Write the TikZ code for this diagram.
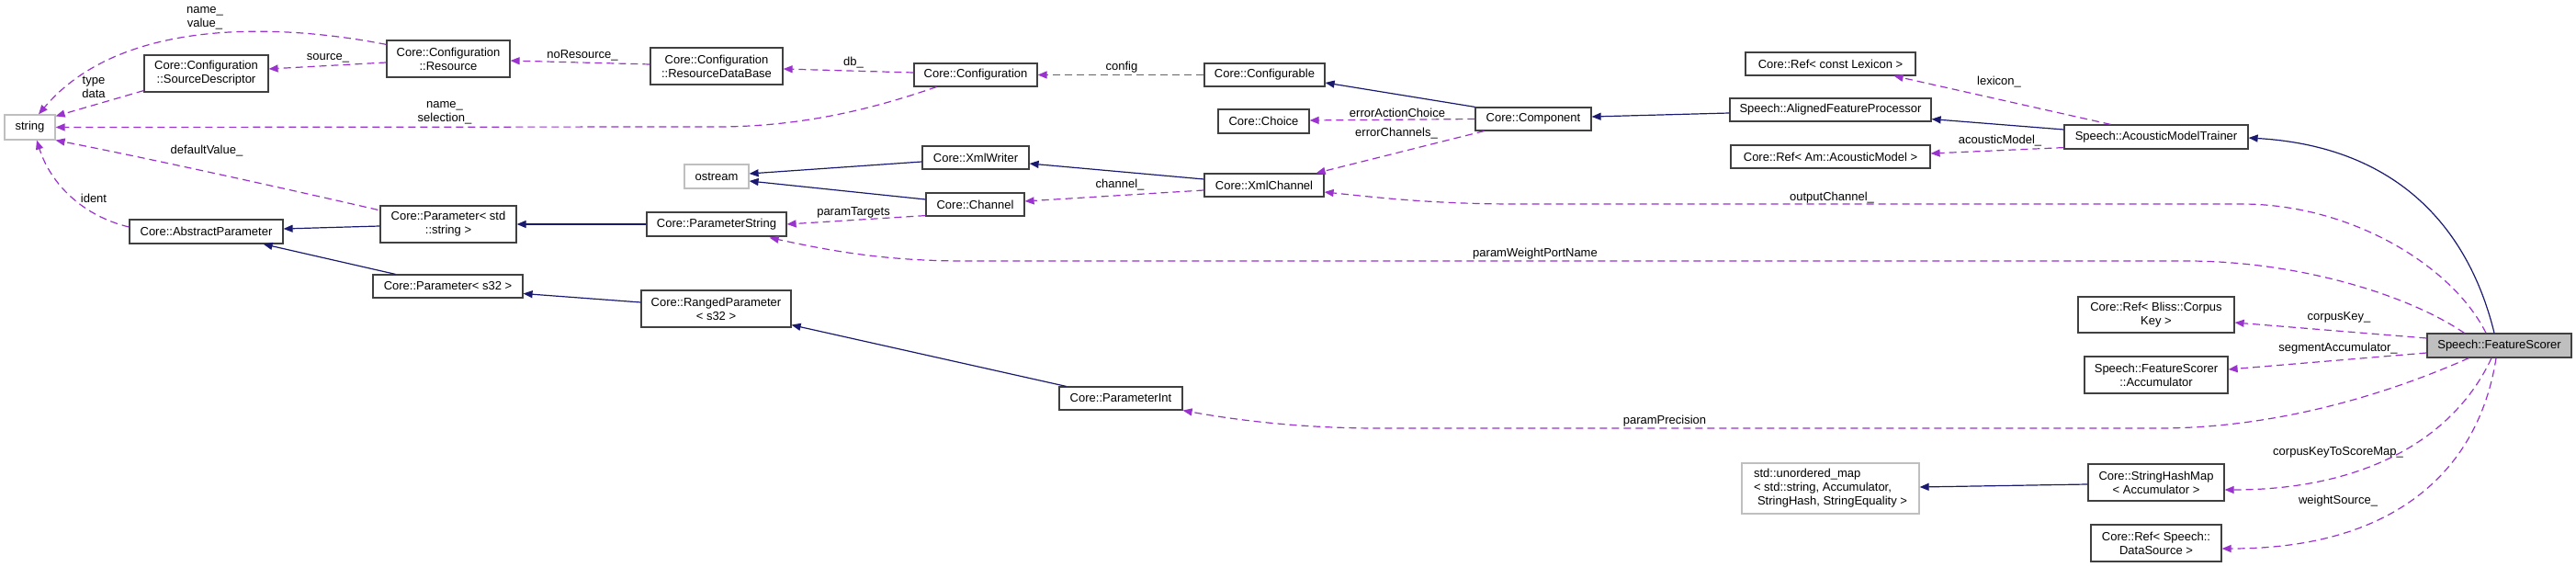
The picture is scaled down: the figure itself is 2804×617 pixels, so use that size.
\documentclass[tikz,border=0pt]{standalone}
\usepackage{fontspec}
\setmainfont{Liberation Sans}
\usetikzlibrary{arrows.meta,calc}
\definecolor{inhcol}{HTML}{191970}
\definecolor{usecol}{HTML}{9A32CD}
\definecolor{boxline}{HTML}{404040}
\definecolor{extline}{HTML}{BFBFBF}
\definecolor{focusfill}{HTML}{BFBFBF}
\newcommand{\dgmfont}{\fontsize{13}{15}\selectfont}
\begin{document}
\begin{tikzpicture}[x=1pt,y=-1pt,
  box/.style={draw=boxline, line width=1.2pt, fill=white, inner sep=0pt, align=center, font=\dgmfont},
  extbox/.style={box, draw=extline},
  sz/.style 2 args={minimum width=#1pt, minimum height=#2pt},
  inhline/.style={draw=inhcol, line width=1.2pt, -{Triangle[length=10pt,width=8pt]}},
  useline/.style={draw=usecol, line width=1.2pt, dash pattern=on 8pt off 5pt, -{Triangle[length=10pt,width=8pt]}},
  lbl/.style={font=\dgmfont, inner sep=0pt, align=center}]
\useasboundingbox (0,0) rectangle (2804,617);

% ---------- nodes ----------
\node[extbox, sz={55}{27}] (str) at (32.5,138.5) {string};
\node[box, sz={135}{40}] (srcd) at (224.5,80) {Core::Configuration\\::SourceDescriptor};
\node[box, sz={134}{40}] (res) at (488,64) {Core::Configuration\\::Resource};
\node[box, sz={144}{40}] (rdb) at (780,72) {Core::Configuration\\::ResourceDataBase};
\node[box, sz={134}{25}] (conf) at (1062,81.5) {Core::Configuration};
\node[box, sz={131}{25}] (cfgb) at (1376.5,81.5) {Core::Configurable};
\node[box, sz={99}{26}] (choice) at (1375.5,132) {Core::Choice};
\node[box, sz={126}{25}] (comp) at (1669,129.5) {Core::Component};
\node[box, sz={185}{25}] (lex) at (1992.5,69.5) {Core::Ref< const Lexicon >};
\node[box, sz={219}{25}] (afp) at (1992.5,119.5) {Speech::AlignedFeatureProcessor};
\node[box, sz={217}{25}] (am) at (1992.5,170.5) {Core::Ref< Am::AcousticModel >};
\node[box, sz={200}{26}] (amt) at (2347,149) {Speech::AcousticModelTrainer};
\node[extbox, sz={70}{26}] (ostr) at (780,192) {ostream};
\node[box, sz={116}{25}] (xw) at (1062,171.5) {Core::XmlWriter};
\node[box, sz={107}{25}] (chan) at (1061.5,222.5) {Core::Channel};
\node[box, sz={130}{25}] (xc) at (1376,201.5) {Core::XmlChannel};
\node[box, sz={152}{26}] (ps) at (780,244) {Core::ParameterString};
\node[box, sz={167}{26}] (ap) at (224.5,252) {Core::AbstractParameter};
\node[box, sz={148}{40}] (pstd) at (488,244) {Core::Parameter< std\\::string >};
\node[box, sz={163}{25}] (p32) at (487.5,311.5) {Core::Parameter< s32 >};
\node[box, sz={163}{40}] (rp) at (779.5,336) {Core::RangedParameter\\< s32 >};
\node[box, sz={134}{25}] (pint) at (1220,433.5) {Core::ParameterInt};
\node[box, sz={157}{26}, fill=focusfill] (fs) at (2720.5,376) {Speech::FeatureScorer};
\node[box, sz={170}{39}] (ck) at (2347,342.5) {Core::Ref< Bliss::Corpus\\Key >};
\node[box, sz={156}{40}] (acc) at (2347,408) {Speech::FeatureScorer\\::Accumulator};
\node[box, sz={148}{40}] (shm) at (2347,525) {Core::StringHashMap\\< Accumulator >};
\node[box, sz={142}{40}] (ds) at (2347,591) {Core::Ref< Speech::\\DataSource >};
\node[extbox, sz={193}{55}, align=left] (um) at (1992.5,531.5) {std::unordered\_map\\< std::string, Accumulator,\\\hspace*{4pt}StringHash, StringEquality >};

% ---------- inheritance (solid) ----------
\draw[inhline] ($(pstd.west)+(0,2)$) -- ($(ap.east)+(0,-3)$);
\draw[inhline] ($(p32.north west)+(25,0)$) -- ($(ap.south east)+(-22,0)$);
\draw[inhline] (ps.west) -- (pstd.east);
\draw[inhline] ($(rp.west)+(0,-7)$) -- ($(p32.east)+(0,8)$);
\draw[inhline] ($(pint.north west)+(8,0)$) -- ($(rp.south east)+(0,-3)$);
\draw[inhline] ($(xw.west)+(0,4.5)$) -- ($(ostr.east)+(0,-3)$);
\draw[inhline] ($(chan.west)+(0,-5.5)$) -- ($(ostr.east)+(0,5)$);
\draw[inhline] ($(xc.west)+(0,-6.5)$) -- ($(xw.east)+(0,6.5)$);
\draw[inhline] (comp.north west) -- ($(cfgb.east)+(0,8.5)$);
\draw[inhline] ($(afp.west)+(0,3.5)$) -- ($(comp.east)+(0,-2.5)$);
\draw[inhline] ($(amt.west)+(0,-8)$) -- ($(afp.south east)+(0,-3)$);
\draw[inhline] ($(fs.north)+(-5.5,0)$) .. controls (2690,260) and (2620,160) .. ($(amt.east)+(0,1)$);
\draw[inhline] ($(shm.west)+(0,2)$) -- ($(um.east)+(0,-1.5)$);

% ---------- usage (dashed) ----------
\draw[useline] ($(res.north west)+(0,5)$) .. controls (300,25) and (130,20) .. ($(str.north)+(9.5,0)$);
\draw[useline] ($(srcd.south west)+(0,-2)$) -- ($(str.north east)+(0,2)$);
\draw[useline] ($(res.west)+(0,4)$) -- ($(srcd.east)+(0,-5)$);
\draw[useline] ($(rdb.west)+(0,-2)$) -- ($(res.east)+(0,2)$);
\draw[useline] ($(conf.west)+(0,-2.5)$) -- ($(rdb.east)+(0,3)$);
\draw[useline] (cfgb.west) -- (conf.east);
\draw[useline] ($(conf.south west)+(25,0)$) .. controls (960,115) and (880,138) .. (780,138) -- (str.east);
\draw[useline] ($(pstd.north west)+(-2,5)$) .. controls (310,205) and (160,172) .. (str.south east);
\draw[useline] ($(ap.west)+(0,-5)$) .. controls (90,235) and (55,200) .. ($(str.south)+(7.5,0)$);
\draw[useline] ($(chan.south west)+(0,-1)$) -- (ps.east);
\draw[useline] ($(xc.west)+(0,5.5)$) -- ($(chan.east)+(0,-3.5)$);
\draw[useline] (comp.west) -- ($(choice.east)+(0,-1)$);
\draw[useline] ($(comp.south west)+(10,0)$) -- ($(xc.north east)+(-9,0)$);
\draw[useline] ($(amt.north west)+(51,0)$) -- ($(lex.south east)+(-24,0)$);
\draw[useline] ($(amt.south west)+(0,-2)$) -- ($(am.east)+(0,-3.5)$);
\draw[useline] ($(fs.north)+(-14.5,0)$) .. controls (2670,290) and (2560,222) .. (2440,222) -- (1650,222) .. controls (1560,222) and (1500,215) .. ($(xc.east)+(0,7.5)$);
\draw[useline] ($(fs.north west)+(41,0)$) .. controls (2620,320) and (2500,284) .. (2380,284) -- (1050,284) .. controls (960,284) and (900,272) .. ($(ps.south east)+(-19,1)$);
\draw[useline] ($(fs.west)+(0,-8)$) -- ($(ck.east)+(0,8.5)$);
\draw[useline] ($(fs.west)+(0,8)$) -- ($(acc.east)+(0,-6)$);
\draw[useline] ($(fs.south west)+(46,0)$) .. controls (2630,415) and (2500,466) .. (2350,466) -- (1500,466) .. controls (1420,466) and (1350,458) .. (pint.south east);
\draw[useline] ($(fs.south)+(-8.5,0)$) .. controls (2670,480) and (2570,533) .. ($(shm.east)+(0,8)$);
\draw[useline] ($(fs.south)+(-3.5,0)$) .. controls (2700,500) and (2620,597) .. ($(ds.east)+(0,6)$);

% ---------- labels ----------
\node[lbl] (l1) at (223,19.5) {name\_\\value\_};
\node[lbl] (l2) at (102,95) {type\\data};
\node[lbl] (l3) at (357,63) {source\_};
\node[lbl] (l4) at (634,60) {noResource\_};
\node[lbl] (l5) at (929,68) {db\_};
\node[lbl] (l6) at (1221,73) {config};
\node[lbl] (l7) at (484,123) {name\_\\selection\_};
\node[lbl] (l8) at (225,164) {defaultValue\_};
\node[lbl] (l9) at (102,216) {ident};
\node[lbl] (l10) at (929,231) {paramTargets};
\node[lbl] (l11) at (1219,201) {channel\_};
\node[lbl] (l12) at (1521,123) {errorActionChoice};
\node[lbl] (l13) at (1520,145) {errorChannels\_};
\node[lbl] (l14) at (2176,89) {lexicon\_};
\node[lbl] (l15) at (2177,153) {acousticModel\_};
\node[lbl] (l16) at (1994,215) {outputChannel\_};
\node[lbl] (l17) at (1671,276) {paramWeightPortName};
\node[lbl] (l18) at (1812,458) {paramPrecision};
\node[lbl] (l19) at (2546,345) {corpusKey\_};
\node[lbl] (l20) at (2545,379) {segmentAccumulator\_};
\node[lbl] (l21) at (2545,492) {corpusKeyToScoreMap\_};
\node[lbl] (l22) at (2545,545) {weightSource\_};
\end{tikzpicture}
\end{document}
